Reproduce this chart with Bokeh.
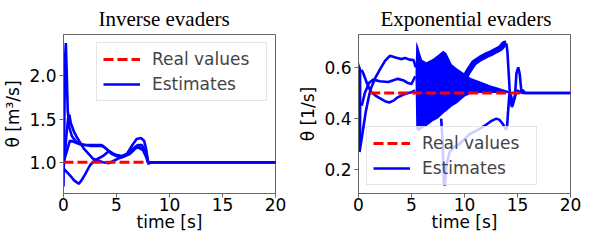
from bokeh.plotting import figure
from bokeh.layouts import row
from bokeh.models import (Range1d, FixedTicker, PrintfTickFormatter, Legend, LegendItem)
from bokeh.embed import file_html
from bokeh.resources import INLINE

# ---------------- data: left panel (Inverse evaders) ----------------
x_ticks = [0, 5, 10, 15, 20]
left_yticks = [1.0, 1.5, 2.0]
right_yticks = [0.2, 0.4, 0.6]

l_real_t = [0, 8]
l_real = [1.0, 1.0]

l_t1 = [0, 0.08, 0.15, 0.22, 0.3, 0.4, 0.55, 0.8, 1.1, 1.5, 2.0, 2.5, 3.0, 3.5, 3.8, 4.2, 4.6,
        5.0, 5.5, 6.0, 6.5, 6.9, 7.3, 7.6, 7.8, 8.0, 8.1, 8.3, 20]
l_e1 = [0.72, 1.5, 2.2, 2.38, 2.05, 1.6, 1.4, 1.3, 1.25, 1.21, 1.2, 1.19, 1.19, 1.19, 1.18, 1.14, 1.1,
        1.08, 1.07, 1.1, 1.2, 1.27, 1.28, 1.25, 1.15, 0.98, 0.99, 1.0, 1.0]

l_t2 = [0, 0.15, 0.3, 0.45, 0.55, 0.7, 1.0, 1.3, 1.9, 2.8, 3.7, 4.3, 4.8, 5.3, 5.8, 6.3, 6.8, 7.1,
        7.5, 7.8, 8.0, 8.2, 20]
l_e2 = [0.93, 1.12, 1.35, 1.52, 1.55, 1.45, 1.35, 1.28, 1.16, 1.04, 1.0, 0.99, 1.02, 1.05, 1.07, 1.1,
        1.16, 1.18, 1.15, 1.08, 1.0, 1.0, 1.0]

l_t3 = [0, 0.67, 1.0, 1.43, 1.7, 2.04, 2.5, 2.95, 3.7, 4.3, 4.8, 5.5, 6.1, 6.9, 7.5, 7.8, 8.0, 8.2, 20]
l_e3 = [0.93, 0.84, 0.79, 0.75, 0.79, 0.86, 0.965, 1.02, 1.07, 1.13, 1.09, 1.07, 1.09, 1.18, 1.14,
        1.06, 0.99, 1.0, 1.0]

l_t4 = [0, 0.3, 0.6, 0.9, 1.3, 2.0, 3.0, 3.6, 4.0, 4.5, 5.0, 5.5, 6.0, 6.5, 7.0, 7.4, 7.8, 8.0, 8.2, 20]
l_e4 = [1.0, 1.12, 1.25, 1.24, 1.22, 1.2, 1.2, 1.2, 1.16, 1.1, 1.07, 1.06, 1.09, 1.15, 1.2, 1.2,
        1.1, 0.99, 1.0, 1.0]

# ---------------- data: right panel (Exponential evaders) ----------------
r_real_t = [1.1, 15.3]
r_real = [0.5, 0.5]

# dense oscillation right at the start (envelope)
r_t_early = [0.0, 0.04, 0.1, 0.2, 0.27]
r_early_lo = [0.55, 0.27, 0.27, 0.30, 0.33]
r_early_hi = [0.62, 0.62, 0.61, 0.60, 0.59]

r_t_a = [0.1, 0.4, 0.7, 1.0, 1.17, 1.6, 2.0, 2.5, 2.96, 3.5, 4.0, 4.4, 4.8, 5.2, 5.4]
r_a = [0.27, 0.35, 0.43, 0.49, 0.517, 0.56, 0.59, 0.625, 0.645, 0.638, 0.632, 0.636, 0.63, 0.628, 0.60]

r_t_b = [0.3, 0.6, 1.0, 1.4, 2.0, 2.8, 3.3, 3.7, 4.2, 4.6, 5.0, 5.35]
r_b = [0.45, 0.50, 0.54, 0.552, 0.546, 0.543, 0.55, 0.555, 0.55, 0.54, 0.535, 0.565]

r_t_c = [0.27, 0.42, 0.87, 1.17, 1.6, 2.0, 2.5, 2.9, 3.3, 3.7, 4.2, 4.6, 5.0, 5.35]
r_c = [0.59, 0.58, 0.53, 0.505, 0.49, 0.48, 0.468, 0.463, 0.47, 0.483, 0.493, 0.499, 0.503, 0.51]

# chattering band (envelope)
r_t_band = [5.38, 5.45, 5.6, 5.8, 6.0, 6.4, 7.0, 7.5, 8.0, 8.3, 8.8, 9.3, 10.0, 10.6, 11.5, 12.4,
            13.2, 14.0, 14.3]
r_band_hi = [0.58, 0.70, 0.685, 0.655, 0.63, 0.62, 0.632, 0.648, 0.665, 0.655, 0.612, 0.595, 0.576,
             0.558, 0.545, 0.53, 0.52, 0.51, 0.505]
r_band_lo = [0.55, 0.36, 0.352, 0.355, 0.36, 0.37, 0.39, 0.40, 0.42, 0.43, 0.447, 0.46, 0.485, 0.497,
             0.50, 0.50, 0.50, 0.50, 0.50]

# thick upper oscillating curve
r_t_u = [9.9, 10.3, 10.9, 11.5, 12.1, 12.6, 13.0, 13.4, 13.75, 13.95]
r_u = [0.55, 0.58, 0.618, 0.635, 0.648, 0.657, 0.666, 0.675, 0.692, 0.693]

r_t_drop = [13.95, 14.05, 14.27]
r_drop = [0.693, 0.66, 0.505]

# lower curve dipping to 0.14
r_t_l = [7.8, 7.95, 8.05, 8.15, 8.3, 8.6, 9.0, 9.5, 10.0, 10.5, 11.0, 11.5, 12.0, 12.5, 13.0, 13.3,
         13.6, 13.9, 14.0, 14.1, 14.25]
r_l = [0.40, 0.30, 0.15, 0.14, 0.22, 0.27, 0.29, 0.30, 0.32, 0.34, 0.35, 0.362, 0.375, 0.39, 0.40,
       0.395, 0.38, 0.358, 0.36, 0.42, 0.505]

# final wiggles and settling
r_t_tail1 = [14.27, 14.45, 14.6, 14.77, 14.9, 15.07, 15.2, 15.37, 15.5, 15.7, 20]
r_tail1 = [0.505, 0.48, 0.463, 0.493, 0.576, 0.60, 0.576, 0.505, 0.511, 0.50, 0.50]
r_t_tail2 = [14.25, 14.35, 14.47, 14.6, 14.77, 14.95, 15.2, 15.5, 20]
r_tail2 = [0.505, 0.47, 0.445, 0.46, 0.487, 0.51, 0.505, 0.50, 0.50]

BLUE = "#0000ff"
RED = "#ff0000"
GREY = "#666666"
FONT = "DejaVu Sans"
LW = 2.6


def make_fig(width, border_left, border_right, y0, y1, title, title_offset):
    p = figure(width=width, height=234, output_backend="svg", toolbar_location=None,
               x_range=Range1d(0, 20), y_range=Range1d(y0, y1),
               min_border_left=border_left, min_border_right=border_right,
               min_border_top=32, min_border_bottom=41)
    p.title.text = title
    p.title.align = "left"
    p.title.offset = title_offset
    p.title.text_font = "Liberation Serif"
    p.title.text_font_size = "21px"
    p.title.text_font_style = "normal"
    p.title.text_color = "black"
    p.title.standoff = 8
    p.xgrid.visible = False
    p.ygrid.visible = False
    p.outline_line_color = GREY
    p.outline_line_width = 1
    p.background_fill_color = "white"
    p.border_fill_color = "white"
    for ax in (p.xaxis, p.yaxis):
        ax.axis_line_color = GREY
        ax.major_tick_line_color = GREY
        ax.major_tick_out = 4
        ax.major_tick_in = 0
        ax.minor_tick_out = 0
        ax.minor_tick_in = 0
        ax.major_label_text_font = FONT
        ax.major_label_text_font_size = "17px"
        ax.major_label_text_color = "black"
        ax.axis_label_text_font = FONT
        ax.axis_label_text_font_size = "17px"
        ax.axis_label_text_font_style = "normal"
        ax.axis_label_text_color = "black"
    p.xaxis.ticker = FixedTicker(ticks=x_ticks)
    p.xaxis.major_label_standoff = 0
    p.xaxis.axis_label = "time [s]"
    p.xaxis.axis_label_standoff = -2
    p.yaxis.major_label_standoff = 3
    p.yaxis.axis_label_standoff = 3
    p.yaxis.formatter = PrintfTickFormatter(format="%.1f")
    return p


def make_legend(p, red, blue, loc):
    lg = Legend(items=[LegendItem(label="Real values", renderers=[red]),
                       LegendItem(label="Estimates", renderers=[blue])],
                location=loc, margin=8, padding=6, spacing=5,
                glyph_width=37, glyph_height=20, label_height=20, label_width=108,
                label_standoff=12, label_text_font=FONT, label_text_font_size="17px",
                border_line_color="#cccccc", border_line_width=1,
                background_fill_color="white", background_fill_alpha=0.8)
    p.add_layout(lg)


# ---------------- left figure ----------------
p1 = make_fig(295, 61, 20, 0.638, 2.479, "Inverse evaders", 35)
p1.yaxis.ticker = FixedTicker(ticks=left_yticks)
p1.yaxis.axis_label = "θ [m³/s]"

b1 = p1.line(l_t1, l_e1, line_color=BLUE, line_width=LW)
p1.line(l_t2, l_e2, line_color=BLUE, line_width=LW)
p1.line(l_t3, l_e3, line_color=BLUE, line_width=LW)
p1.line(l_t4, l_e4, line_color=BLUE, line_width=LW)
r1 = p1.line(l_real_t, l_real, line_color=RED, line_width=LW + 0.4, line_dash="10 4")
make_legend(p1, r1, b1, "top_right")

# ---------------- right figure ----------------
p2 = make_fig(286, 62, 11, 0.108, 0.728, "Exponential evaders", 22)
p2.yaxis.ticker = FixedTicker(ticks=right_yticks)
p2.yaxis.axis_label = "θ [1/s]"

p2.varea(x=r_t_early, y1=r_early_lo, y2=r_early_hi, fill_color=BLUE)
p2.varea(x=r_t_band, y1=r_band_lo, y2=r_band_hi, fill_color=BLUE)
b2 = p2.line(r_t_a, r_a, line_color=BLUE, line_width=LW)
p2.line(r_t_b, r_b, line_color=BLUE, line_width=LW)
p2.line(r_t_c, r_c, line_color=BLUE, line_width=LW)
p2.line(r_t_u, r_u, line_color=BLUE, line_width=6)
p2.line(r_t_drop, r_drop, line_color=BLUE, line_width=LW)
p2.line(r_t_l, r_l, line_color=BLUE, line_width=LW)
p2.line(r_t_tail1, r_tail1, line_color=BLUE, line_width=LW)
p2.line(r_t_tail2, r_tail2, line_color=BLUE, line_width=LW)
r2 = p2.line(r_real_t, r_real, line_color=RED, line_width=LW + 0.4, line_dash="10 4")
make_legend(p2, r2, b2, "bottom_left")

layout = row(p1, p2)
open("out.html", "w").write(file_html(layout, INLINE))
